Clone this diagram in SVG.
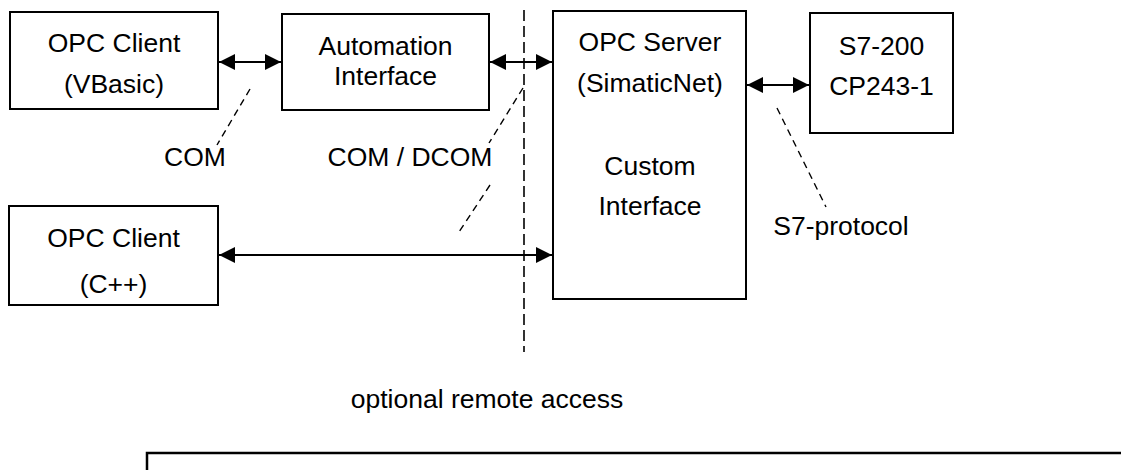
<svg xmlns="http://www.w3.org/2000/svg" width="1121" height="470" viewBox="0 0 1121 470">
  <style>
    .box { fill: #fff; stroke: #000; stroke-width: 2; }
    .t { font-family: "Liberation Sans", Arial, sans-serif; font-size: 26.5px; fill: #000; text-anchor: middle; }
    .arrow { stroke: #000; stroke-width: 1.8; fill: none; marker-start: url(#ah); marker-end: url(#ah); }
    .lead { stroke: #000; stroke-width: 1.4; fill: none; stroke-dasharray: 7 5; }
    .sep { stroke: #000; stroke-width: 1.6; fill: none; stroke-dasharray: 11 5; }
  </style>
  <defs>
    <marker id="ah" viewBox="0 0 16 16" refX="16" refY="8" markerWidth="16" markerHeight="16" markerUnits="userSpaceOnUse" orient="auto-start-reverse">
      <path d="M0,0 L16,8 L0,16 z" fill="#000"/>
    </marker>
  </defs>
  <rect width="1121" height="470" fill="#fff"/>

  <g id="connectors">
    <line class="arrow" x1="219" y1="62" x2="281" y2="62"/>
    <line class="arrow" x1="490" y1="62" x2="552" y2="62"/>
    <line class="arrow" x1="747" y1="85" x2="809" y2="85"/>
    <line class="arrow" x1="219" y1="255" x2="552" y2="255"/>
    <line class="sep" x1="524" y1="10" x2="524" y2="352"/>
    <line class="lead" x1="250" y1="89" x2="217" y2="145"/>
    <line class="lead" x1="523" y1="88" x2="489" y2="143"/>
    <line class="lead" x1="490" y1="185" x2="457" y2="235"/>
    <line class="lead" x1="777" y1="108" x2="826" y2="207"/>
  </g>

  <g id="opc-client-vbasic">
    <rect class="box" x="10" y="12" width="208" height="97"/>
    <text class="t" x="114" y="52">OPC Client</text>
    <text class="t" x="114" y="93">(VBasic)</text>
  </g>

  <g id="automation-interface">
    <rect class="box" x="282" y="14" width="207" height="96"/>
    <text class="t" x="385.5" y="55">Automation</text>
    <text class="t" x="385.5" y="85">Interface</text>
  </g>

  <g id="opc-server">
    <rect class="box" x="553" y="11" width="193" height="288"/>
    <text class="t" x="650" y="51">OPC Server</text>
    <text class="t" x="650" y="92">(SimaticNet)</text>
    <text class="t" x="650" y="175">Custom</text>
    <text class="t" x="650" y="215">Interface</text>
  </g>

  <g id="s7-200">
    <rect class="box" x="810" y="13" width="143" height="120"/>
    <text class="t" x="881.5" y="55">S7-200</text>
    <text class="t" x="881.5" y="95">CP243-1</text>
  </g>

  <g id="opc-client-cpp">
    <rect class="box" x="9" y="206" width="209" height="99"/>
    <text class="t" x="113.5" y="247">OPC Client</text>
    <text class="t" x="113.5" y="293">(C++)</text>
  </g>

  <g id="labels">
    <text class="t" x="195" y="166">COM</text>
    <text class="t" x="410" y="166">COM / DCOM</text>
    <text class="t" x="841" y="235">S7-protocol</text>
    <text class="t" x="487" y="408">optional remote access</text>
  </g>

  <g id="bottom-frame">
    <rect x="147" y="453" width="1000" height="40" fill="none" stroke="#000" stroke-width="2.5"/>
  </g>
</svg>
